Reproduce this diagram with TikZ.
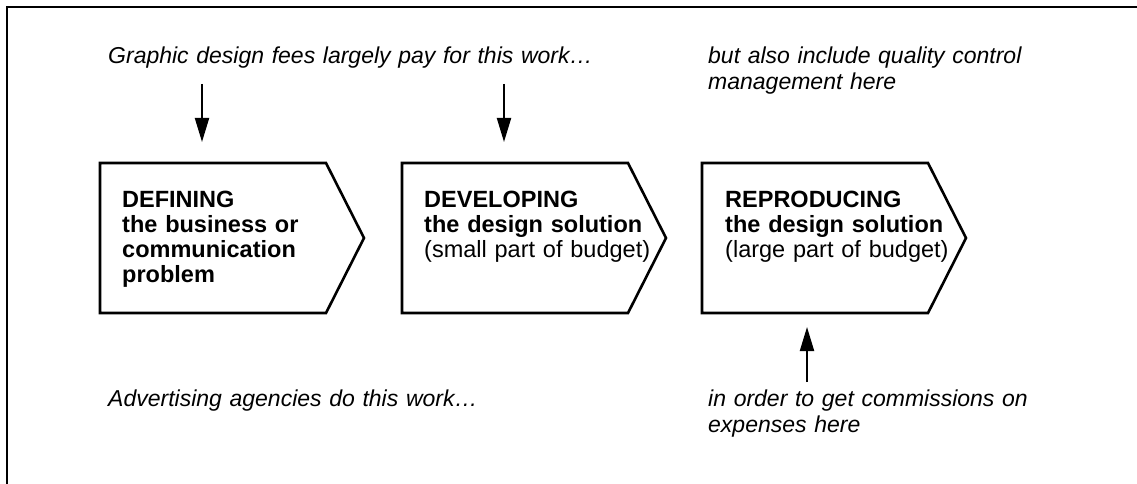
\documentclass[tikz,border=0pt]{standalone}
\usepackage{fontspec}
\setmainfont{Liberation Sans}
\usetikzlibrary{arrows.meta,calc}
\begin{document}
\begin{tikzpicture}[x=1pt,y=-1pt,
  stage/.style={minimum width=226pt,minimum height=150pt,inner sep=0pt,outer sep=0pt,anchor=north west},
  stagetext/.style={anchor=base west,inner sep=0pt,text width=240pt,align=left,font=\fontsize{23.5}{25}\selectfont},
  note/.style={anchor=base west,inner sep=0pt,text width=600pt,align=left,font=\fontsize{23}{26}\selectfont\itshape},
  outline/.style={line width=2.6pt,line join=miter},
  arr/.style={line width=2pt,-{Triangle[length=24pt,width=14pt]}},
]
\clip (0,0) rectangle (1137,484);
% outer frame
\draw[line width=1.6pt] (7,7) rectangle (1170,510);

% the three stages
\node[stage] (s1) at (100,163) {};
\node[stage] (s2) at (402,163) {};
\node[stage] (s3) at (702,163) {};
\foreach \s in {s1,s2,s3}{
  \draw[outline] (\s.north west) -- (\s.north east) -- ($(\s.east)+(38,0)$)
    -- (\s.south east) -- (\s.south west) -- cycle;
}
\node[stagetext] (t1) at ($(s1.north west)+(22,44)$)
  {{\bfseries DEFINING\\the business or\\communication\\problem}};
\node[stagetext] (t2) at ($(s2.north west)+(22,44)$)
  {{\bfseries DEVELOPING\\the design solution}\\(small part of budget)};
\node[stagetext] (t3) at ($(s3.north west)+(23,44)$)
  {{\bfseries REPRODUCING\\the design solution}\\(large part of budget)};

% notes
\node[note] (n1) at (108,64) {Graphic design fees largely pay for this work…};
\node[note] (n2) at (708,64) {but also include quality control\\management here};
\node[note] (n3) at (108,406) {Advertising agencies do this work…};
\node[note] (n4) at (708,406) {in order to get commissions on\\expenses here};

% arrows
\coordinate (a1s) at ($(s1.north west)+(102,-79)$);
\coordinate (a1e) at ($(s1.north west)+(102,-21)$);
\coordinate (a2s) at ($(s2.north west)+(102,-79)$);
\coordinate (a2e) at ($(s2.north west)+(102,-21)$);
\coordinate (a3s) at ($(s3.south west)+(105,69)$);
\coordinate (a3e) at ($(s3.south west)+(105,14)$);
\draw[arr] (a1s) -- (a1e);
\draw[arr] (a2s) -- (a2e);
\draw[arr] (a3s) -- (a3e);
\end{tikzpicture}
\end{document}
